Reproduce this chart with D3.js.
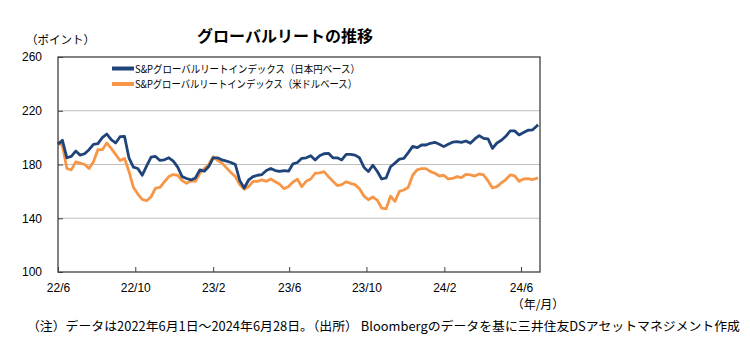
<!DOCTYPE html>
<meta charset="utf-8">
<head>
  <title>グローバルリートの推移</title>
  <style>
    body { margin: 0; background: #fff; }
    svg { display: block; font-family: "Noto Sans CJK JP", "Noto Sans", sans-serif; }
    .tick text { font-size: 12px; fill: #000; }
  </style>
  <script src="https://d3js.org/d3.v7.min.js"></script>
</head>
<body>
  <div id="chart"></div>
  <script>
    // weekly closes from 2022-06-01, last value is 2024-06-28
    var jpy = [195, 198, 185, 186, 190, 187, 188, 191, 195, 195.5,
      200, 202.7, 198.5, 196, 200.7, 201, 185, 178, 177, 172,
      179, 185.5, 186, 183, 183.5, 185, 182.5, 178, 171, 169.6,
      168.5, 170, 176, 175, 178.5, 185, 185, 183.4, 182.5, 181.5,
      180, 168, 162.5, 168.5, 171, 172, 172.5, 175.5, 177, 175.5,
      174.8, 175.5, 175, 180.5, 181.5, 184.6, 185, 186.5, 183.4, 186.5,
      188, 188.3, 185, 185, 183.4, 187.5, 187.5, 187, 185, 178,
      174.7, 179.5, 175, 169.2, 170, 178.3, 181, 184, 184.6, 188.8,
      193.5, 192.5, 194.5, 194.5, 195.8, 196.5, 195, 193.3, 195, 196.6,
      197, 196.5, 197.5, 195.8, 199, 201.5, 199.4, 199, 192, 196,
      198, 201, 205, 205, 202, 203.8, 205.5, 205.7, 208.7, 209.5];

    var usd = [197, 194, 177, 176, 182, 181, 180, 177, 182, 191,
      191, 196, 192, 187.5, 183, 184.5, 175, 163, 158, 154,
      153, 156, 162.5, 163, 167, 171, 172.5, 172, 168, 166,
      167.8, 167.5, 173.5, 177, 180, 185.8, 183, 181, 177.5, 174,
      171, 165, 161.5, 163.6, 167.5, 167.5, 168.5, 167.5, 169.2, 167.2,
      165.3, 162, 163.6, 167, 169, 163.5, 167.6, 169.2, 173.5, 173.8,
      174.7, 171, 167.5, 164.3, 165, 167.2, 166, 165, 162, 156.5,
      153.8, 155.8, 153.5, 147.6, 147, 156.5, 152.5, 160, 161, 163,
      172, 176, 177, 177, 174.7, 173.5, 171.4, 172, 169.3, 169.6,
      171, 170.2, 172.7, 172.2, 171.4, 173, 172.2, 167.8, 162.5, 163.5,
      166.3, 168.8, 172.2, 171.6, 167.5, 169.2, 169.5, 168.7, 169.8, 169.8];

    var seriesNames = ['S&Pグローバルリートインデックス（日本円ベース）',
      'S&Pグローバルリートインデックス（米ドルベース）'];
    var seriesColors = ['#1f4479', '#f79646'];

    var xTickLabels = ['22/6', '22/10', '23/2', '23/6', '23/10', '24/2', '24/6'];
    var yTicks = [100, 140, 180, 220, 260];

    var parseYM = d3.timeParse('%y/%m');
    var start = new Date(2022, 5, 1);
    var last = new Date(2024, 5, 28);
    var dates = jpy.map(function (d, i) {
      return i < jpy.length - 1 ? d3.timeDay.offset(start, 7 * i) : last;
    });

    var width = 750, height = 339;
    var plot = { left: 58, right: 540, top: 57, bottom: 272 };

    var svg = d3.select('#chart').append('svg')
      .attr('width', width)
      .attr('height', height);

    var x = d3.scaleTime()
      .domain([start, new Date(2024, 6, 1)])
      .range([plot.left, plot.right]);

    var y = d3.scaleLinear()
      .domain([100, 260])
      .range([plot.bottom, plot.top]);

    // horizontal grid
    svg.append('g')
      .selectAll('line')
      .data(yTicks.slice(1, -1))
      .join('line')
      .attr('x1', plot.left)
      .attr('x2', plot.right)
      .attr('y1', function (d) { return y(d); })
      .attr('y2', function (d) { return y(d); })
      .attr('stroke', '#bfbfbf')
      .attr('stroke-width', 1);

    // lines
    var line = d3.line()
      .x(function (d, i) { return x(dates[i]); })
      .y(function (d) { return y(d); });

    [usd, jpy].forEach(function (s, k) {
      svg.append('path')
        .datum(s)
        .attr('fill', 'none')
        .attr('stroke', seriesColors[1 - k])
        .attr('stroke-width', 2.8)
        .attr('stroke-linejoin', 'round')
        .attr('d', line);
    });

    // frame
    svg.append('rect')
      .attr('x', plot.left)
      .attr('y', plot.top)
      .attr('width', plot.right - plot.left)
      .attr('height', plot.bottom - plot.top)
      .attr('fill', 'none')
      .attr('stroke', '#404040')
      .attr('stroke-width', 1.3);

    // axes
    var xAxis = svg.append('g')
      .attr('transform', 'translate(0,' + plot.bottom + ')')
      .call(d3.axisBottom(x)
        .tickValues(xTickLabels.map(parseYM))
        .tickFormat(d3.timeFormat('%y/%-m'))
        .tickSize(-5)
        .tickPadding(11));
    xAxis.select('.domain').remove();
    xAxis.selectAll('.tick line').attr('stroke', '#404040');

    var yAxis = svg.append('g')
      .attr('transform', 'translate(' + plot.left + ',0)')
      .call(d3.axisLeft(y)
        .tickValues(yTicks)
        .tickSize(-5)
        .tickPadding(16));
    yAxis.select('.domain').remove();
    yAxis.selectAll('.tick line').attr('stroke', '#404040');

    // legend
    var legend = svg.append('g');
    var legendWidths = [225, 222];
    seriesNames.forEach(function (name, i) {
      var ly = 68.5 + i * 15.5;
      legend.append('line')
        .attr('x1', 112).attr('x2', 134)
        .attr('y1', ly).attr('y2', ly)
        .attr('stroke', seriesColors[i])
        .attr('stroke-width', 4);
      legend.append('text')
        .attr('x', 135).attr('y', ly + 4)
        .attr('font-size', 10.5)
        .attr('textLength', legendWidths[i])
        .attr('lengthAdjust', 'spacingAndGlyphs')
        .text(name);
    });

    // titles and notes
    svg.append('text')
      .attr('x', 285).attr('y', 42)
      .attr('text-anchor', 'middle')
      .attr('font-size', 16)
      .attr('font-weight', 'bold')
      .text('グローバルリートの推移');

    svg.append('text')
      .attr('x', 26).attr('y', 44)
      .attr('font-size', 11.5)
      .text('（ポイント）');

    svg.append('text')
      .attr('x', 538).attr('y', 309)
      .attr('text-anchor', 'middle')
      .attr('font-size', 12)
      .text('（年/月）');

    svg.append('text')
      .attr('x', 27).attr('y', 331)
      .attr('font-size', 12.5)
      .attr('textLength', 713)
      .attr('lengthAdjust', 'spacingAndGlyphs')
      .text('（注）データは2022年6月1日～2024年6月28日。（出所） Bloombergのデータを基に三井住友DSアセットマネジメント作成');
  </script>
</body>
